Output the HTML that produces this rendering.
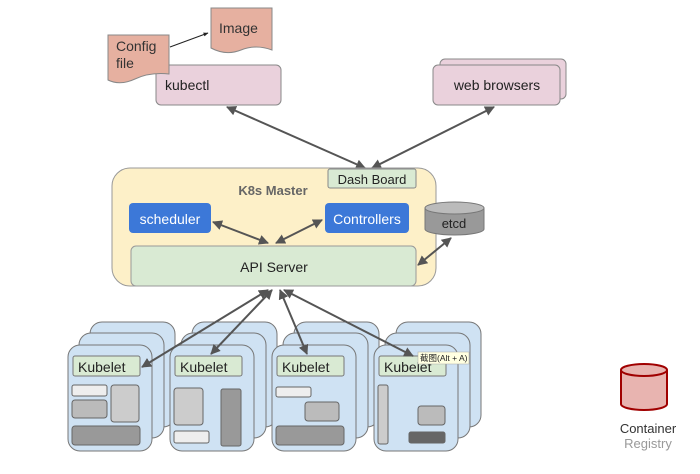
<!DOCTYPE html>
<html><head><meta charset="utf-8"><style>body{margin:0;background:#fff}svg{display:block}text{font-family:"Liberation Sans","Noto Sans CJK SC",sans-serif}</style></head><body>
<svg width="700" height="474" viewBox="0 0 700 474" xmlns="http://www.w3.org/2000/svg">
<defs>
<marker id="a" viewBox="0 0 10 10" refX="9" refY="5" markerWidth="5" markerHeight="5" orient="auto-start-reverse"><path d="M0,0L10,5L0,10z" fill="#555"/></marker>
<marker id="s" viewBox="0 0 10 10" refX="9" refY="5" markerWidth="5" markerHeight="5" orient="auto"><path d="M0,1L10,5L0,9z" fill="#222"/></marker>
<g id="stack">
<rect x="22" y="0" width="85" height="105" rx="12" fill="#cfe2f3" stroke="#777"/>
<rect x="11" y="11" width="85" height="105" rx="12" fill="#cfe2f3" stroke="#777"/>
<rect x="0" y="23" width="84" height="106" rx="12" fill="#cfe2f3" stroke="#777"/>
<rect x="5" y="34" width="67" height="20" rx="2" fill="#d9ead3" stroke="#777"/>
<text x="10" y="50" font-size="14" fill="#222">Kubelet</text>
</g>
</defs>
<path d="M211,8H272V50Q256,44 241,50T211,48Z" fill="#e6b0a0" stroke="#888"/>
<text x="219" y="33" font-size="14" fill="#333">Image</text>
<rect x="156" y="65" width="125" height="40" rx="5" fill="#ead1dc" stroke="#888"/>
<text x="165" y="90" font-size="14" fill="#222">kubectl</text>
<path d="M108,35H169V74Q150,72 135,79T108,80Z" fill="#e6b0a0" stroke="#888"/>
<text x="116" y="51" font-size="14" fill="#333">Config</text>
<text x="116" y="68" font-size="14" fill="#333">file</text>
<line x1="170" y1="47" x2="208" y2="33" stroke="#222" stroke-width="1" marker-end="url(#s)"/>
<rect x="440" y="59" width="126" height="40" rx="5" fill="#ead1dc" stroke="#888"/>
<rect x="433" y="65" width="127" height="40" rx="5" fill="#ead1dc" stroke="#888"/>
<text x="497" y="90" font-size="14" fill="#222" text-anchor="middle">web browsers</text>
<line x1="365" y1="168" x2="227" y2="107" stroke="#555" stroke-width="2" marker-start="url(#a)" marker-end="url(#a)"/>
<line x1="372" y1="168" x2="494" y2="107" stroke="#555" stroke-width="2" marker-start="url(#a)" marker-end="url(#a)"/>
<rect x="112" y="168" width="324" height="118" rx="18" fill="#fdf0c8" stroke="#999"/>
<rect x="328" y="169" width="88" height="19" rx="2" fill="#d9ead3" stroke="#888"/>
<text x="372" y="184" font-size="13" fill="#222" text-anchor="middle">Dash Board</text>
<text x="273" y="195" font-size="13" font-weight="bold" fill="#666" text-anchor="middle">K8s Master</text>
<rect x="129" y="203" width="82" height="30" rx="4" fill="#3c78d8"/>
<text x="170" y="224" font-size="14" fill="#fff" text-anchor="middle">scheduler</text>
<rect x="325" y="203" width="84" height="30" rx="4" fill="#3c78d8"/>
<text x="367" y="224" font-size="14" fill="#fff" text-anchor="middle">Controllers</text>
<rect x="131" y="246" width="285" height="40" rx="5" fill="#d9ead3" stroke="#999"/>
<text x="274" y="272" font-size="14" fill="#222" text-anchor="middle">API Server</text>
<line x1="213" y1="222" x2="268" y2="243" stroke="#555" stroke-width="2" marker-start="url(#a)" marker-end="url(#a)"/>
<line x1="322" y1="220" x2="276" y2="243" stroke="#555" stroke-width="2" marker-start="url(#a)" marker-end="url(#a)"/>
<path d="M425,208V229A29.5,6 0 0 0 484,229V208" fill="#999" stroke="#777"/>
<ellipse cx="454.5" cy="208" rx="29.5" ry="6" fill="#bbb" stroke="#777"/>
<text x="454" y="228" font-size="13" fill="#222" text-anchor="middle">etcd</text>
<line x1="451" y1="238" x2="418" y2="265" stroke="#555" stroke-width="2" marker-start="url(#a)" marker-end="url(#a)"/>
<use href="#stack" x="68" y="322"/>
<use href="#stack" x="170" y="322"/>
<use href="#stack" x="272" y="322"/>
<use href="#stack" x="374" y="322"/>
<g stroke="#666">
<rect x="72" y="385" width="35" height="11" rx="2" fill="#eee"/>
<rect x="72" y="400" width="35" height="18" rx="3" fill="#bbb"/>
<rect x="111" y="385" width="28" height="37" rx="3" fill="#ccc"/>
<rect x="72" y="426" width="68" height="19" rx="3" fill="#999"/>
<rect x="174" y="388" width="29" height="37" rx="3" fill="#ccc"/>
<rect x="174" y="431" width="35" height="12" rx="2" fill="#eee"/>
<rect x="221" y="389" width="20" height="57" rx="2" fill="#999"/>
<rect x="276" y="387" width="35" height="10" rx="2" fill="#eee"/>
<rect x="305" y="402" width="34" height="19" rx="3" fill="#bbb"/>
<rect x="276" y="426" width="68" height="19" rx="3" fill="#999"/>
<rect x="378" y="385" width="10" height="59" rx="2" fill="#ccc"/>
<rect x="418" y="406" width="27" height="19" rx="3" fill="#bbb"/>
<rect x="409" y="432" width="36" height="11" rx="2" fill="#666"/>
</g>
<g stroke="#555" stroke-width="2" fill="none">
<line x1="268" y1="290" x2="142" y2="367" marker-start="url(#a)" marker-end="url(#a)"/>
<line x1="272" y1="290" x2="211" y2="354" marker-start="url(#a)" marker-end="url(#a)"/>
<line x1="280" y1="290" x2="307" y2="354" marker-start="url(#a)" marker-end="url(#a)"/>
<line x1="284" y1="290" x2="413" y2="356" marker-start="url(#a)" marker-end="url(#a)"/>
</g>
<rect x="418" y="352" width="51" height="12" fill="#ffffe1" stroke="#aaa" stroke-width="0.5"/>
<text x="420" y="361" font-size="8.5" fill="#222">截图(Alt + A)</text>
<path d="M621,370V404A23,6 0 0 0 667,404V370" fill="#e8b4b0" stroke="#a00000" stroke-width="2"/>
<ellipse cx="644" cy="370" rx="23" ry="6" fill="#e8b4b0" stroke="#a00000" stroke-width="2"/>
<text x="648" y="433" font-size="13" fill="#333" text-anchor="middle">Container</text>
<text x="648" y="448" font-size="13" fill="#999" text-anchor="middle">Registry</text>
</svg>
</body></html>
